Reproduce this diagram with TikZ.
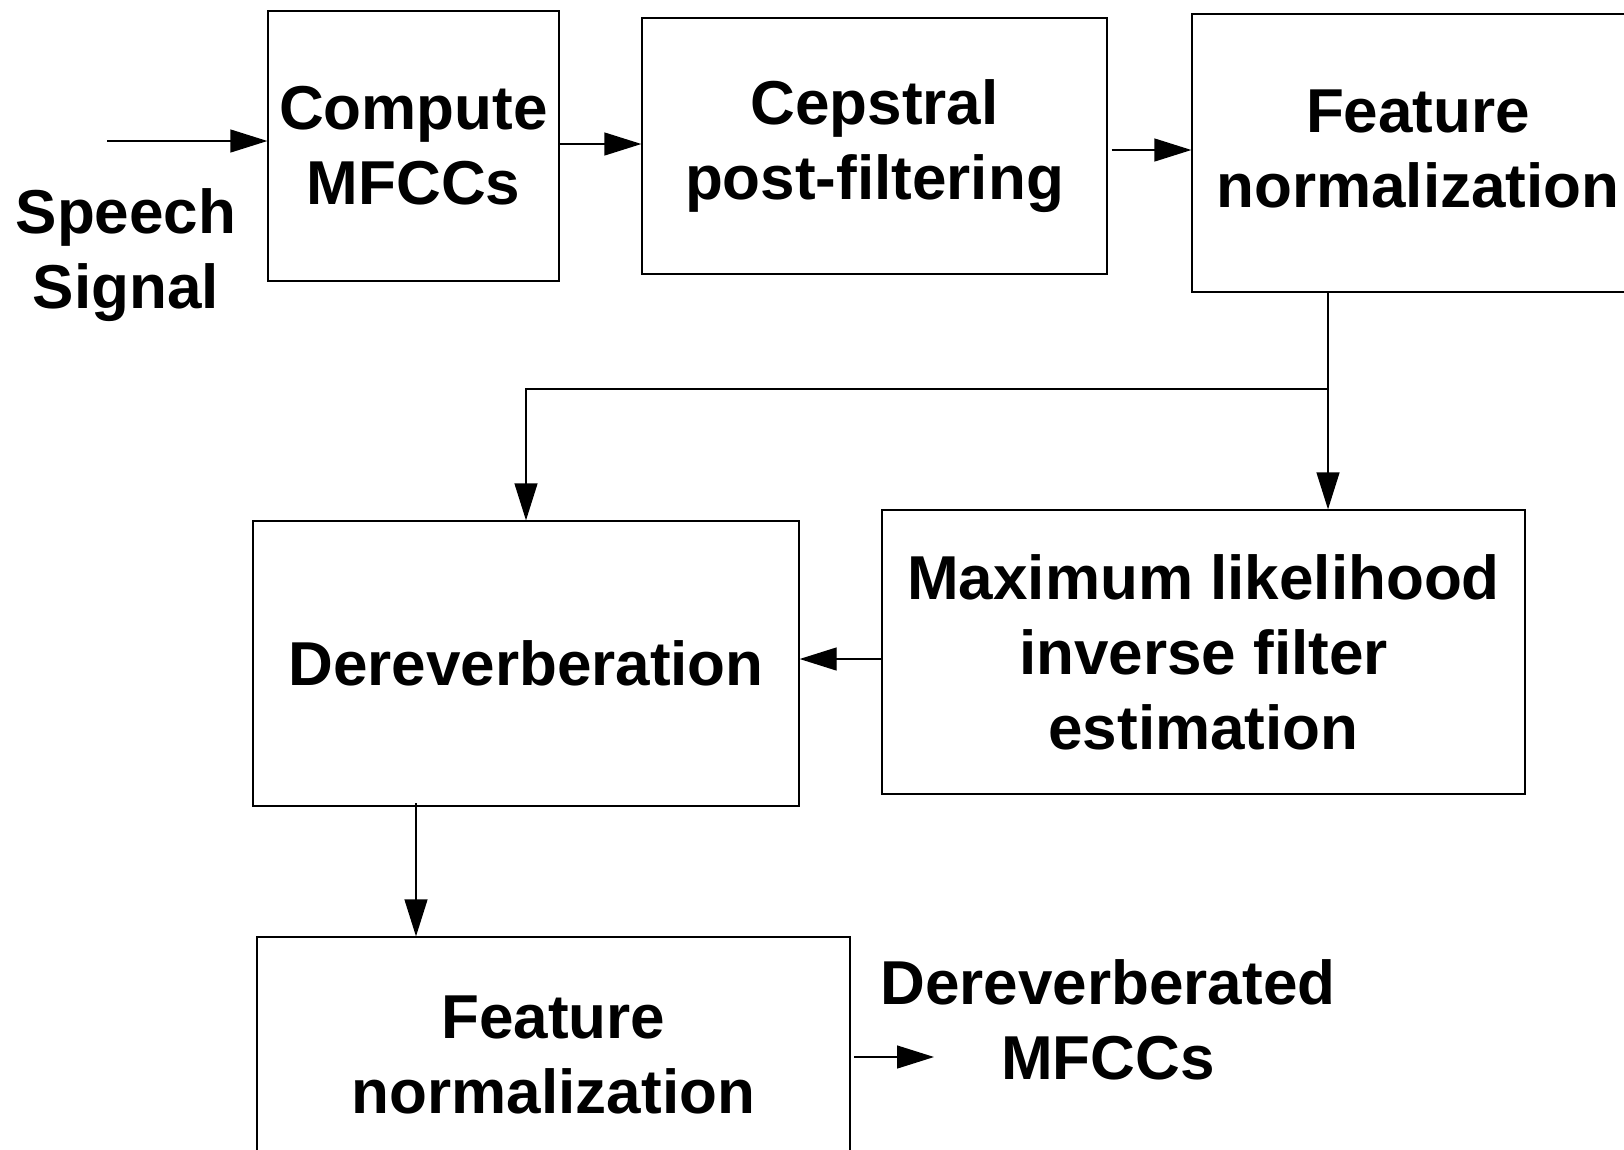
\documentclass[tikz,border=0pt]{standalone}
\usepackage{fontspec}
\setmainfont{Liberation Sans}
\usetikzlibrary{arrows.meta}
\begin{document}
\begin{tikzpicture}[x=1pt,y=-1pt,
  every node/.style={font=\fontsize{62}{75}\selectfont\bfseries, align=center, inner sep=0pt},
  blk/.style={draw, line width=1.3pt, rectangle},
  conn/.style={line width=1.3pt, -{Triangle[length=37pt,width=23pt]}},
  line/.style={line width=1.3pt}]
\useasboundingbox (0,0) rectangle (1624,1149);
\clip (0,0) rectangle (1624,1149);
\node[blk, minimum width=291pt, minimum height=270pt] (b1) at (413.5,146) {Compute\\MFCCs};
\node[blk, minimum width=465pt, minimum height=256pt] (b2) at (874.5,146) {Cepstral\\post-filtering};
\node[blk, minimum width=448pt, minimum height=278pt] (b3) at (1416,153) {};
\node (b3t) at (1418,149) {Feature\\normalization};
\node[blk, minimum width=546pt, minimum height=285pt] (dr) at (526,663.5) {Dereverberation};
\node[blk, minimum width=643pt, minimum height=284pt] (ml) at (1203.5,652) {Maximum likelihood\\inverse filter\\estimation};
\node[blk, minimum width=593pt, minimum height=236pt] (bn) at (553.5,1055) {Feature\\normalization};
\node (sp) at (126,255) {Speech\\Signal};
\node (out) at (1108,1020) {Dereverberated\\MFCCs};
\coordinate (in) at (107,141);
\coordinate (j) at (1328,389);
\coordinate (k) at (416,803);
\coordinate (oa) at (854,1057);
\coordinate (ob) at (934,1057);
\draw[conn] (in) -- (in -| b1.west);
\draw[conn] ([yshift=2pt]b1.east) -- ([yshift=2pt]b1.east -| b2.west);
\draw[conn] ([xshift=4pt,yshift=-4pt]b2.east) -- ([yshift=-4pt]b2.east -| b3.west);
\draw[line] (j |- b3.south) -- (j);
\draw[conn] (j) -- (j |- ml.north);
\draw[conn] (j) -| (dr.north);
\draw[conn] ([yshift=-7pt]ml.west) -- ([yshift=-7pt]ml.west -| dr.east);
\draw[conn] (k) -- (k |- bn.north);
\draw[conn] (oa) -- (ob);
\end{tikzpicture}
\end{document}
